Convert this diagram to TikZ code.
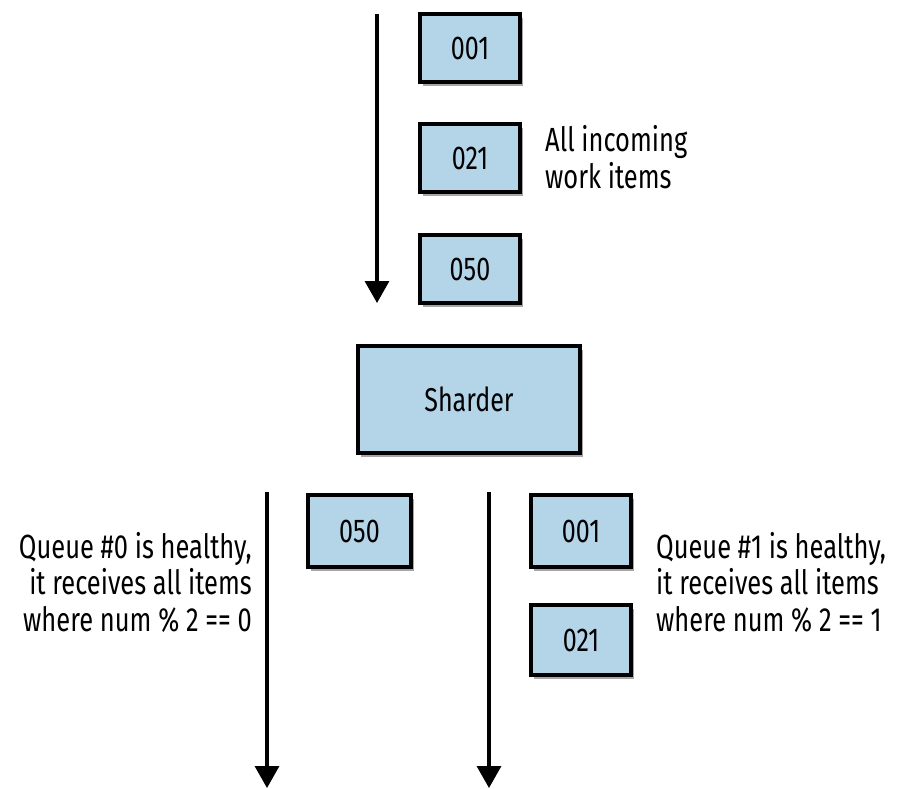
\documentclass[tikz,border=0pt]{standalone}
\usepackage{fontspec}
\setmainfont[FakeStretch=0.76]{Fira Sans}
\usetikzlibrary{arrows.meta,shadows}
\definecolor{boxblue}{RGB}{180,212,232}
\tikzset{
  item/.style={draw=black, line width=3.5pt, fill=boxblue, minimum width=100pt, minimum height=68pt, inner sep=0pt,
    drop shadow={shadow xshift=3pt, shadow yshift=-4pt, opacity=0.35, fill=black}, font=\fontsize{33}{36.5}\selectfont},
  flow/.style={line width=3.5pt, -{Triangle[width=24pt,length=22pt]}},
  lbl/.style={inner sep=0pt, font=\fontsize{33.5}{36.5}\selectfont}
}
\begin{document}
\begin{tikzpicture}[x=1pt,y=-1pt]
\useasboundingbox (0,0) rectangle (908,788);
% top
\coordinate (t0) at (377,14);
\coordinate (t1) at (377,303);
\draw[flow] (t0) -- (t1);
\node[item] (a1) at (470,48) {001};
\node[item] (a2) at (470,158) {021};
\node[item] (a3) at (470,269) {050};
\node[lbl, align=left, anchor=west] (ain) at (545,157) {All incoming\\work items};
% sharder
\node[item, minimum width=222pt, minimum height=107pt] (sh) at (469,399.5) {Sharder};
% lower arrows
\coordinate (l0) at (267,492);
\coordinate (l1) at (267,788);
\coordinate (r0) at (489,492);
\coordinate (r1) at (489,788);
\draw[flow] (l0) -- (l1);
\draw[flow] (r0) -- (r1);
\node[item, minimum height=72pt, minimum width=103pt] (b0) at (359.5,531) {050};
\node[item, minimum height=72pt] (c1) at (581,531) {001};
\node[item, minimum height=70pt] (c2) at (581,640) {021};
\node[lbl, align=right, anchor=east] (q0) at (252,582) {Queue \#0 is healthy,\\it receives all items\\where num \% 2 == 0};
\node[lbl, align=left, anchor=west] (q1) at (656,582) {Queue \#1 is healthy,\\it receives all items\\where num \% 2 == 1};
\end{tikzpicture}
\end{document}
